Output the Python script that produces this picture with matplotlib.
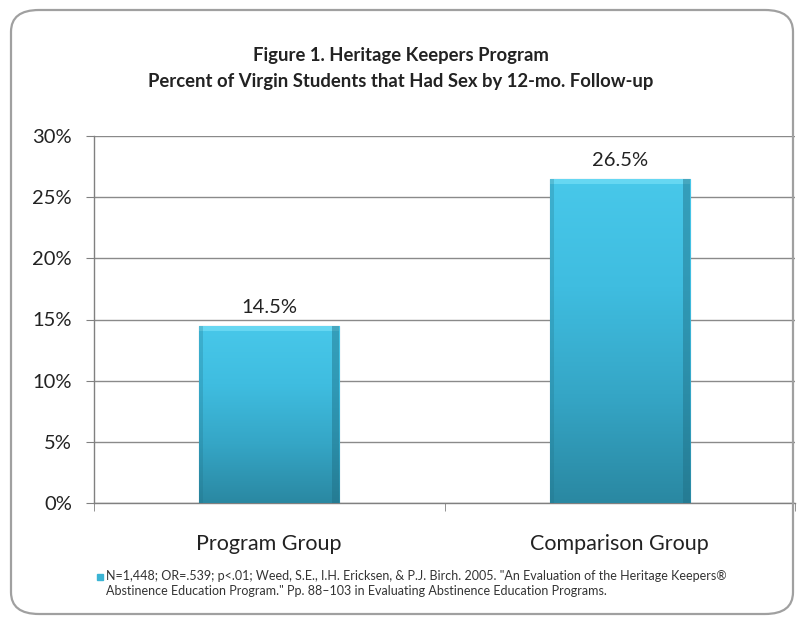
import matplotlib
matplotlib.use("Agg")
import matplotlib.pyplot as plt
import numpy as np
from matplotlib.patches import FancyBboxPatch, Rectangle
from matplotlib.colors import LinearSegmentedColormap

categories = ["Program Group", "Comparison Group"]
values = [14.5, 26.5]
value_labels = ["14.5%", "26.5%"]
yticks = [0, 5, 10, 15, 20, 25, 30]
ytick_labels = ["0%", "5%", "10%", "15%", "20%", "25%", "30%"]
title_lines = ["Figure 1. Heritage Keepers Program",
               "Percent of Virgin Students that Had Sex by 12-mo. Follow-up"]
foot1 = "N=1,448; OR=.539; p<.01; Weed, S.E., I.H. Ericksen, & P.J. Birch. 2005. \"An Evaluation of the Heritage Keepers\u00ae"
foot2 = "Abstinence Education Program.\" Pp. 88\u2013103 in Evaluating Abstinence Education Programs."

plt.rcParams['font.family'] = ['Lato', 'DejaVu Sans']

W, H = 802, 622
fig = plt.figure(figsize=(W/100, H/100), dpi=100)
fig.patch.set_facecolor('white')

# rounded border
border = FancyBboxPatch((11/W, 8/H), (793-11)/W, (612-8)/H,
                        boxstyle="round,pad=0,rounding_size=0.035",
                        transform=fig.transFigure, fill=False,
                        edgecolor='#a0a0a0', linewidth=1.6, zorder=0)
fig.patches.append(border)

ax = fig.add_axes([94/W, 1-503/H, (795-94)/W, (503-136)/H])
x = np.arange(len(categories))
bars = ax.bar(x, values, width=0.40, color='#38b4d6', edgecolor='#2a7f96',
              linewidth=0.8, zorder=3)

cmap = LinearSegmentedColormap.from_list('g', ['#2a88a2', '#35a6c6', '#3fbde0', '#48c8ea'])
for b in bars:
    x0, y0 = b.get_x(), b.get_y()
    w, h = b.get_width(), b.get_height()
    grad = np.linspace(0, 1, 256).reshape(-1, 1)
    im = ax.imshow(grad, extent=(x0, x0 + w, y0, y0 + h), origin='lower',
                   cmap=cmap, aspect='auto', zorder=3.5)
    im.set_clip_path(b)
    # bevel top
    ax.add_patch(Rectangle((x0, y0 + h - 0.45), w, 0.45, color='#6fdcf5',
                           alpha=0.8, zorder=3.6, linewidth=0))
    # side shading
    ax.add_patch(Rectangle((x0 + w * 0.95, y0), w * 0.05, h, color='#1f6d82',
                           alpha=0.45, zorder=3.6, linewidth=0))
    ax.add_patch(Rectangle((x0, y0), w * 0.03, h, color='#1f6d82',
                           alpha=0.25, zorder=3.6, linewidth=0))

for b, lab in zip(bars, value_labels):
    ax.annotate(lab, (b.get_x() + b.get_width()/2, b.get_height()),
                xytext=(0, 7), textcoords='offset points', ha='center',
                va='bottom', fontsize=14.5, color='#222222')

ax.set_xlim(-0.5, 1.5)
ax.set_ylim(0, 30)
ax.set_yticks(yticks)
ax.set_yticklabels(ytick_labels, fontsize=14.5, color='#222222')
ax.set_xticks(x)
ax.set_xticklabels(categories, fontsize=15.5, color='#222222')
ax.set_xticks([-0.5, 0.5, 1.5], minor=True)
ax.tick_params(axis='x', which='major', length=0, pad=22)
ax.tick_params(axis='x', which='minor', length=6, color='#808080', direction='out')
ax.tick_params(axis='y', length=6, color='#808080', pad=10)
ax.grid(axis='y', color='#8a8a8a', linewidth=1.0, zorder=0)
for s in ['top', 'right']:
    ax.spines[s].set_visible(False)
for s in ['left', 'bottom']:
    ax.spines[s].set_color('#808080')
    ax.spines[s].set_linewidth(1.0)
ax.set_axisbelow(True)

fig.text(0.5, 1-55/H, title_lines[0], ha='center', va='center',
         fontsize=13.3, fontweight='bold', color='#222222')
fig.text(0.5, 1-82/H, title_lines[1], ha='center', va='center',
         fontsize=13.3, fontweight='bold', color='#222222')

fig.patches.append(Rectangle((97/W, 1-580/H), 6/W, 6/H, transform=fig.transFigure,
                             color='#3bb4d4'))
fig.text(106/W, 1-576/H, foot1, ha='left', va='center', fontsize=9.0, color='#333333')
fig.text(106/W, 1-591/H, foot2, ha='left', va='center', fontsize=9.0, color='#333333')

fig.savefig('out.png', dpi=100, facecolor='white')
